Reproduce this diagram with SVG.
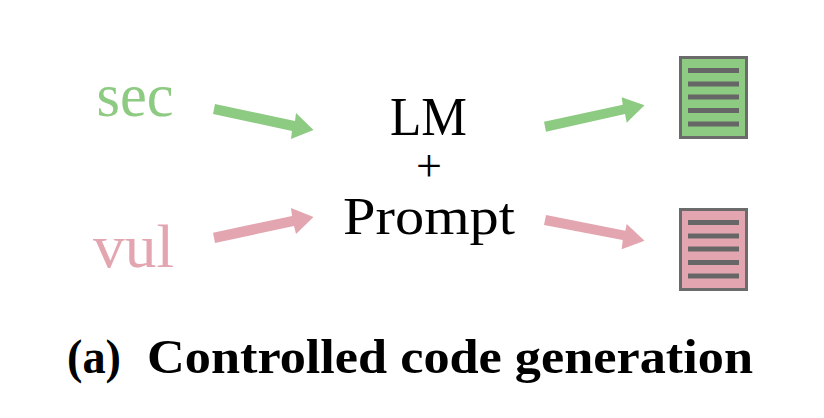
<svg xmlns="http://www.w3.org/2000/svg" width="824" height="418" viewBox="0 0 824 418">
<style>
text{font-family:"Liberation Serif","DejaVu Serif",serif}
.d{stroke:#6b6b6b;stroke-width:3}
.l{stroke:#666;stroke-width:5}
.g{fill:#8ecb82}.r{fill:#e3a6b0}
</style>
<rect width="824" height="418" fill="#fff"/>
<g id="connectors">
<polygon class="g" points="215,104 295,121 296,113 313.500,130 291,139 292,131 213,114"/>
<polygon class="r" points="213,232.700 292,216 291,208 313.500,217 296,234 294,226 215,243"/>
<polygon class="g" points="544,121.700 622.700,104.700 621.700,97.300 644.500,105.300 626.700,122.700 625,114 546,131.700"/>
<polygon class="r" points="546,215 625.300,230.700 626.700,224 644.500,240.700 621.700,249.300 622.700,240 544,225"/>
</g>
<g id="sec"><text x="96.500" y="116" font-size="62" textLength="77" lengthAdjust="spacingAndGlyphs" fill="#8ecb82">sec</text></g>
<g id="vul"><text x="93" y="267" font-size="62" textLength="81" lengthAdjust="spacingAndGlyphs" fill="#e3a6b0">vul</text></g>
<g id="lm"><text x="390" y="135" font-size="55" textLength="77" lengthAdjust="spacingAndGlyphs">LM</text><text x="429" y="181" font-size="46" text-anchor="middle">+</text><text x="343" y="234" font-size="52" textLength="172" lengthAdjust="spacingAndGlyphs">Prompt</text></g>
<g id="doc-green"><rect class="g d" x="680.500" y="57.500" width="66" height="80"/><path class="l" d="M688 70.500H739M688 84H739M688 97H739M688 110.500H739M688 124H739"/></g>
<g id="doc-red"><rect class="r d" x="680.500" y="209.500" width="66" height="80"/><path class="l" d="M688 222.500H739M688 236H739M688 249H739M688 262.500H739M688 276H739"/></g>
<g id="caption"><text y="373" font-size="49" font-weight="700"><tspan x="67" textLength="54" lengthAdjust="spacingAndGlyphs">(a)</tspan> <tspan x="147" textLength="606" lengthAdjust="spacingAndGlyphs">Controlled code generation</tspan></text></g>
</svg>
